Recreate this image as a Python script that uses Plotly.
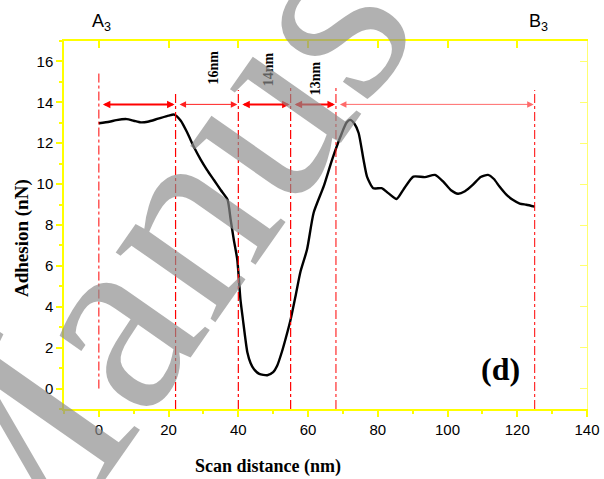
import plotly.graph_objects as go

# ---- data ----
x_nm = [0, 3, 5, 8, 10, 12, 14, 17, 20, 21.6, 23.5, 25.4, 27.3, 29.2, 31, 33, 35, 36.9,
        37.8, 38.7, 39.7, 40.6, 41.3, 42.6, 43.5, 44.5, 46, 48.3, 50, 51.1, 52.5, 53.5,
        55, 56.5, 57.8, 59.7, 61.6, 64.5, 66.9, 69.7, 71, 72.1, 73.3, 74.5, 75.9, 76.9,
        78.7, 81.1, 83, 85.4, 87.3, 90.2, 93.5, 96.4, 98.7, 101, 103, 105, 107.3, 109.5,
        111.6, 113.3, 114.9, 116.8, 118.7, 120.7, 122.6, 125]
adhesion_nN = [12.98, 13.05, 13.13, 13.18, 13.1, 13.02, 13.05, 13.2, 13.35, 13.4, 13.1, 12.5,
               11.8, 11.2, 10.7, 10.2, 9.7, 9.24, 8.26, 7.28, 6.3, 4.36, 3.4, 1.76, 1.25,
               0.94, 0.72, 0.65, 0.8, 1.1, 1.8, 2.4, 3.38, 4.6, 5.7, 6.8, 8.6, 9.9, 11.2,
               12.5, 13.0, 13.14, 12.95, 12.5, 11.2, 10.37, 9.8, 9.8, 9.56, 9.27, 9.72,
               10.37, 10.34, 10.45, 10.13, 9.7, 9.53, 9.65, 9.97, 10.35, 10.45, 10.25, 9.88,
               9.5, 9.23, 9.05, 8.99, 8.9]

marker_x = [0, 22, 40, 55, 68, 125]
marker_top = [15.5, 14.5, 14.6, 14.7, 14.7, 14.6]
marker_bottom = [0, -1, -1, -1, -1, -1]

span_start = [0, 22, 40, 55, 68]
span_end = [22, 40, 55, 68, 125]
span_y = 13.9

width_labels = ["16nm", "14nm", "13nm"]
width_label_x = [33, 48.7, 62.1]
width_label_y = [15.7, 15.6, 15.2]

x_ticks = [0, 20, 40, 60, 80, 100, 120, 140]
y_ticks = [0, 2, 4, 6, 8, 10, 12, 14, 16]

# ---- styles ----
YEL = "#ffff00"
span_width = [2, 1, 2, 2, 1]
span_color = ["#ff0000", "#ff2020", "#ff0000", "#ff0000", "#ff6a6a"]
marker_width = [1, 1.2, 1.2, 1.2, 1, 1]

fig = go.Figure()
fig.add_trace(go.Scatter(x=x_nm, y=adhesion_nN, mode="lines",
                         line=dict(color="black", width=2.4, shape="spline", smoothing=0.6),
                         showlegend=False, hoverinfo="skip"))
fig.add_trace(go.Scatter(x=[None], y=[None], xaxis="x2", yaxis="y2", showlegend=False))

shapes = []
for xv, yt, yb, w in zip(marker_x, marker_top, marker_bottom, marker_width):
    shapes.append(dict(type="line", xref="x", yref="y", x0=xv, x1=xv, y0=yb, y1=yt,
                       line=dict(color="#ff0000", width=w, dash="dashdot"), layer="above"))

annotations = []
for xs, xe, w, c in zip(span_start, span_end, span_width, span_color):
    sz = 1.3 if w < 1.5 else 0.75
    annotations.append(dict(x=xe, y=span_y, ax=xs, ay=span_y, xref="x", yref="y",
                            axref="x", ayref="y", text=" ", showarrow=True,
                            arrowhead=2, startarrowhead=2, arrowside="end+start",
                            arrowsize=sz, startarrowsize=sz,
                            arrowwidth=w, arrowcolor=c, standoff=1, startstandoff=1))
for t, xv, yv in zip(width_labels, width_label_x, width_label_y):
    annotations.append(dict(x=xv, y=yv, xref="x", yref="y", text="<b>%s</b>" % t,
                            showarrow=False, textangle=-90,
                            font=dict(family="Liberation Serif", size=14, color="black")))


def px(xp, yp):
    return dict(xref="paper", yref="paper", x=(xp - 64) / 523, y=(409 - yp) / 368,
                xanchor="center", yanchor="middle", showarrow=False)


annotations.append(dict(**px(101, 22), text="A<sub>3</sub>",
                        font=dict(family="Liberation Sans", size=18, color="black")))
annotations.append(dict(**px(538, 22), text="B<sub>3</sub>",
                        font=dict(family="Liberation Sans", size=18, color="black")))
annotations.append(dict(**px(500, 369), text="<b>(d)</b>",
                        font=dict(family="Liberation Serif", size=32, color="black")))
annotations.append(dict(**px(268, 466), text="<b>Scan distance (nm)</b>",
                        font=dict(family="Liberation Serif", size=18, color="black")))
annotations.append(dict(**px(22, 238), text="<b>Adhesion (nN)</b>", textangle=-90,
                        font=dict(family="Liberation Serif", size=19, color="black")))
# watermark
annotations.append(dict(**px(142, 270), text="Manus", textangle=-55,
                        font=dict(family="Liberation Serif", size=265,
                                  color="rgba(140,140,140,0.68)")))

fig.update_layout(
    width=604, height=479,
    margin=dict(l=64, r=17, t=41, b=70, autoexpand=False),
    paper_bgcolor="white", plot_bgcolor="white",
    shapes=shapes, annotations=annotations,
    xaxis=dict(range=[-10, 140], tickvals=x_ticks, ticks="outside", ticklen=6,
               tickwidth=2, tickcolor=YEL, showline=True, linecolor=YEL, linewidth=2,
               showgrid=False, zeroline=False, automargin=False,
               minor=dict(ticks="outside", ticklen=3, tickwidth=2, tickcolor=YEL,
                          tick0=-10, dtick=10),
               tickfont=dict(family="Liberation Sans", size=15, color="black")),
    yaxis=dict(range=[-1, 17], tickvals=y_ticks, ticks="outside", ticklen=6,
               tickwidth=1.5, tickcolor=YEL, showline=True, linecolor=YEL, linewidth=1.5,
               showgrid=False, zeroline=False, automargin=False,
               minor=dict(ticks="outside", ticklen=3, tickwidth=1.5, tickcolor=YEL,
                          tick0=1, dtick=2),
               tickfont=dict(family="Liberation Sans", size=15, color="black")),
    xaxis2=dict(range=[-10, 140], overlaying="x", side="top", tickvals=x_ticks,
                ticks="inside", ticklen=7, tickwidth=2, tickcolor=YEL, showline=True,
                linecolor=YEL, linewidth=2, showticklabels=False, showgrid=False,
                zeroline=False, automargin=False),
    yaxis2=dict(range=[-1, 17], overlaying="y", side="right", tickvals=y_ticks,
                ticks="inside", ticklen=7, tickwidth=1, tickcolor="#ffff70", showline=True,
                linecolor="#ffff70", linewidth=1, showticklabels=False, showgrid=False,
                zeroline=False, automargin=False),
)

fig.write_html("out.html", config={"displayModeBar": False},
               post_script="document.body.style.margin='0';document.body.style.padding='0';")
